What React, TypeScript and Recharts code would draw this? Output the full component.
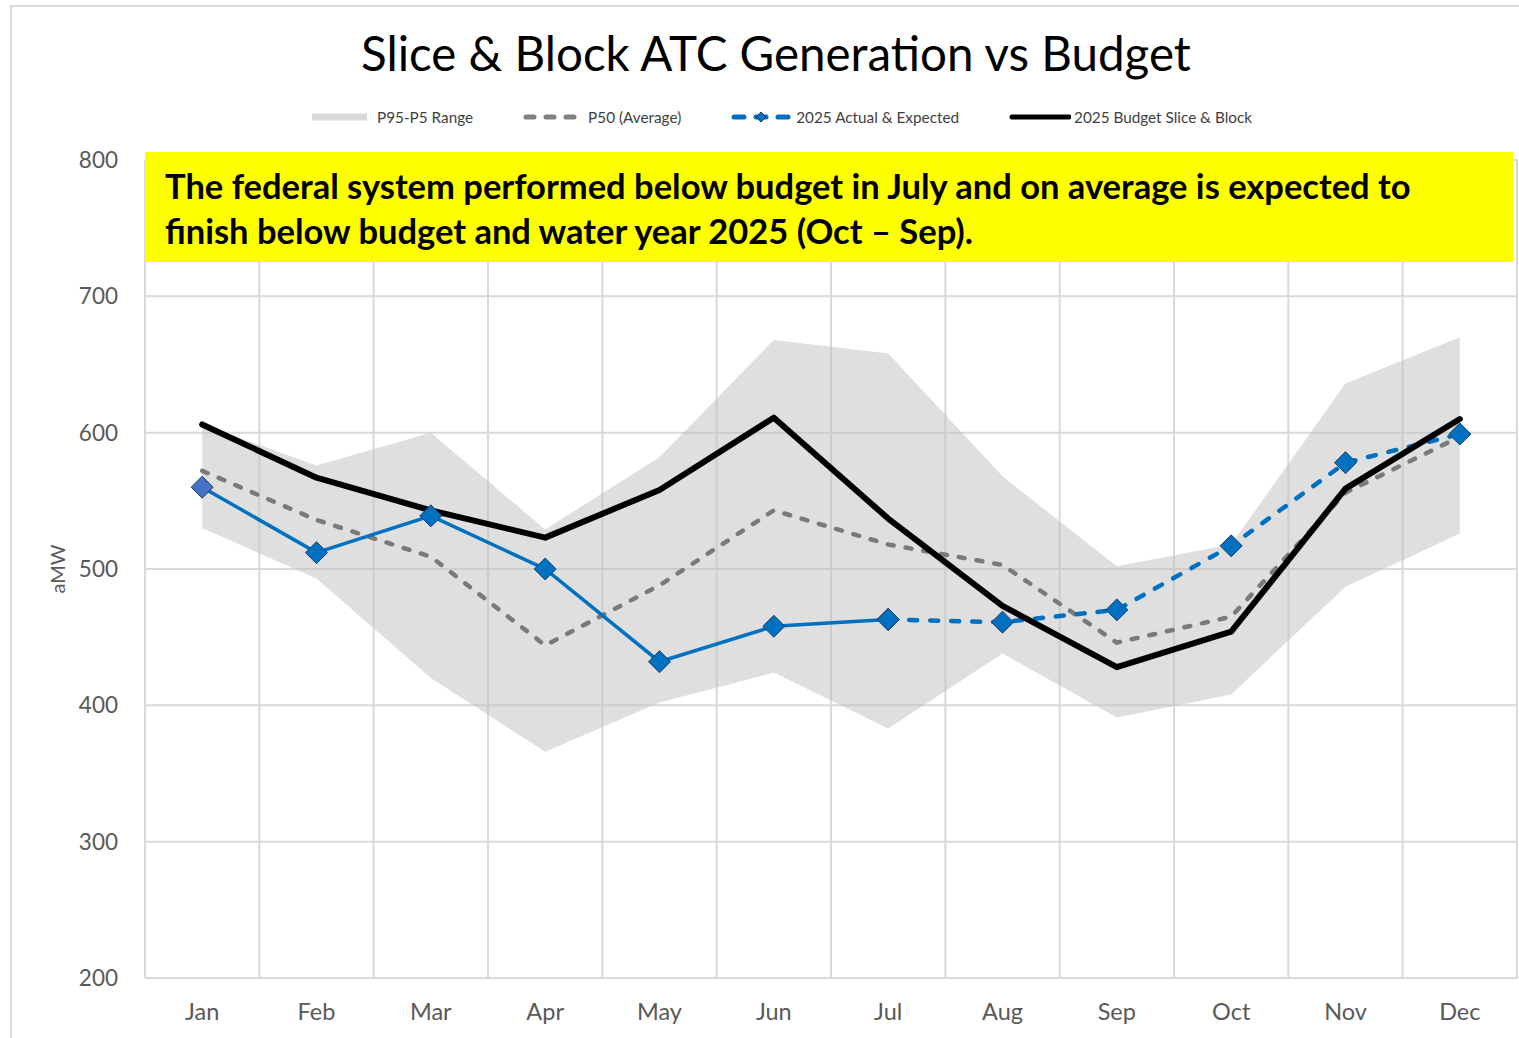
import React from "react"
import {
  ComposedChart,
  Area,
  Line,
  XAxis,
  YAxis,
  CartesianGrid,
} from "recharts"

const months = ["Jan", "Feb", "Mar", "Apr", "May", "Jun", "Jul", "Aug", "Sep", "Oct", "Nov", "Dec"]
const p95 = [606, 576, 600, 529, 582, 668, 658, 568, 502, 518, 636, 670]
const p5 = [530, 493, 420, 366, 402, 424, 383, 438, 391, 408, 487, 526]
const p50 = [572, 536, 509, 444, 488, 543, 518, 503, 446, 465, 556, 597]
const actual = [560, 512, 539, 500, 432, 458, 463, null, null, null, null, null]
const expected = [null, null, null, null, null, null, 463, 461, 470, 517, 578, 599]
const budget = [606, 567, 543, 523, 558, 611, 537, 473, 428, 454, 559, 610]
const yTicks = [200, 300, 400, 500, 600, 700, 800]

const data = months.map((month, i) => ({
  month,
  range: [p5[i], p95[i]],
  p50: p50[i],
  actual: actual[i],
  expected: expected[i],
  budget: budget[i],
}))

const FONT = "Lato, 'Open Sans', sans-serif"
const BLUE = "#0070C0"

function Diamond(props: any) {
  const { cx, cy, index, payload } = props
  if (cx == null || cy == null || payload == null) return <g key={`e-${index}`} />
  const r = 11
  const fill = payload.month === "Jan" ? "#4472C4" : BLUE
  return (
    <path
      key={`d-${index}`}
      d={`M${cx},${cy - r} L${cx + r},${cy} L${cx},${cy + r} L${cx - r},${cy} Z`}
      fill={fill}
      stroke="#1f3f66"
      strokeWidth={1}
    />
  )
}

function LegendItem({ kind, label }: { kind: string; label: string }) {
  let sym: React.ReactNode = null
  if (kind === "range") sym = <line x1={0} y1={8} x2={55} y2={8} stroke="#d9d9d9" strokeWidth={7} />
  if (kind === "p50")
    sym = <line x1={3} y1={8} x2={58} y2={8} stroke="#7f7f7f" strokeWidth={5} strokeDasharray="8 12" strokeLinecap="round" />
  if (kind === "actual")
    sym = (
      <g>
        <line x1={3} y1={8} x2={58} y2={8} stroke={BLUE} strokeWidth={5} strokeDasharray="10 12" strokeLinecap="round" />
        <path d="M30,3 L35,8 L30,13 L25,8 Z" fill={BLUE} stroke="#1f3f66" strokeWidth={1} />
      </g>
    )
  if (kind === "budget")
    sym = <line x1={3} y1={8} x2={60} y2={8} stroke="#000" strokeWidth={5} strokeLinecap="round" />
  return (
    <div style={{ display: "flex", alignItems: "center", marginRight: 50 }}>
      <svg width={62} height={16} style={{ marginRight: 3 }}>
        {sym}
      </svg>
      <span style={{ fontSize: 15.3, color: "#404040" }}>{label}</span>
    </div>
  )
}

export default function App() {
  return (
    <div
      style={{
        position: "absolute",
        left: 0,
        top: 0,
        width: 1519,
        height: 1038,
        overflow: "hidden",
        background: "#fff",
        fontFamily: FONT,
      }}
    >
      <div
        style={{
          position: "absolute",
          left: 10,
          top: 5,
          width: 1600,
          height: 1100,
          border: "2px solid #d9d9d9",
        }}
      />
      <div
        style={{
          position: "absolute",
          left: 0,
          top: 24,
          width: 1552,
          textAlign: "center",
          fontSize: 47.5,
          color: "#000",
        }}
      >
        Slice &amp; Block ATC Generation vs Budget
      </div>
      <div style={{ position: "absolute", left: 312, top: 108, display: "flex" }}>
        <LegendItem kind="range" label="P95-P5 Range" />
        <LegendItem kind="p50" label="P50 (Average)" />
        <LegendItem kind="actual" label="2025 Actual & Expected" />
        <LegendItem kind="budget" label="2025 Budget Slice & Block" />
      </div>

      <div style={{ position: "absolute", left: 0, top: 0 }}>
        <ComposedChart width={1519} height={1038} data={data} margin={{ top: 160, right: 2, left: 45, bottom: 0 }}>
          <CartesianGrid
            stroke="#d9d9d9"
            strokeWidth={2}
            verticalCoordinatesGenerator={({ offset }: any) =>
              Array.from({ length: months.length + 1 }, (_, i) => offset.left + (i * offset.width) / months.length)
            }
          />
          <XAxis
            dataKey="month"
            scale="band"
            interval={0}
            height={60}
            axisLine={false}
            tickLine={false}
            tickMargin={19}
            tick={{ fontSize: 23.5, fill: "#595959", fontFamily: FONT }}
          />
          <YAxis
            domain={[200, 800]}
            ticks={yTicks}
            width={100}
            axisLine={false}
            tickLine={false}
            tickMargin={21}
            tick={{ fontSize: 22.5, fill: "#595959", fontFamily: FONT }}
            label={{
              content: ({ viewBox }: any) => (
                <text
                  x={viewBox.x + 12}
                  y={viewBox.y + viewBox.height / 2}
                  transform={`rotate(-90, ${viewBox.x + 12}, ${viewBox.y + viewBox.height / 2})`}
                  textAnchor="middle"
                  dominantBaseline="central"
                  fontSize={20}
                  fill="#595959"
                  fontFamily={FONT}
                >
                  aMW
                </text>
              ),
            }}
          />
          <Area
            type="linear"
            dataKey="range"
            name="P95-P5 Range"
            fill="#bfbfbf"
            fillOpacity={0.5}
            stroke="none"
            isAnimationActive={false}
          />
          <Line
            type="linear"
            dataKey="p50"
            name="P50 (Average)"
            stroke="#7a7a7a"
            strokeWidth={4.5}
            strokeDasharray="6 12"
            strokeLinecap="round"
            dot={false}
            isAnimationActive={false}
          />
          <Line
            type="linear"
            dataKey="expected"
            name="2025 Expected"
            stroke={BLUE}
            strokeWidth={4.5}
            strokeDasharray="8 13"
            strokeLinecap="round"
            dot={false}
            isAnimationActive={false}
          />
          <Line
            type="linear"
            dataKey="budget"
            name="2025 Budget Slice & Block"
            stroke="#000"
            strokeWidth={6}
            strokeLinecap="round"
            strokeLinejoin="round"
            dot={false}
            isAnimationActive={false}
          />
          <Line
            type="linear"
            dataKey="actual"
            name="2025 Actual"
            stroke={BLUE}
            strokeWidth={3.5}
            dot={Diamond}
            isAnimationActive={false}
          />
          <Line
            type="linear"
            dataKey="expected"
            name="2025 Expected markers"
            stroke="none"
            dot={Diamond}
            legendType="none"
            isAnimationActive={false}
          />
        </ComposedChart>
      </div>

      <div
        style={{
          position: "absolute",
          left: 145,
          top: 152,
          width: 1368,
          height: 110,
          background: "#ffff00",
          boxSizing: "border-box",
          padding: "11px 0 0 20px",
          fontSize: 34.5,
          fontWeight: 700,
          lineHeight: "45px",
          color: "#000",
        }}
      >
        The federal system performed below budget in July and on average is expected to
        <br />
        finish below budget and water year 2025 (Oct – Sep).
      </div>
    </div>
  )
}
